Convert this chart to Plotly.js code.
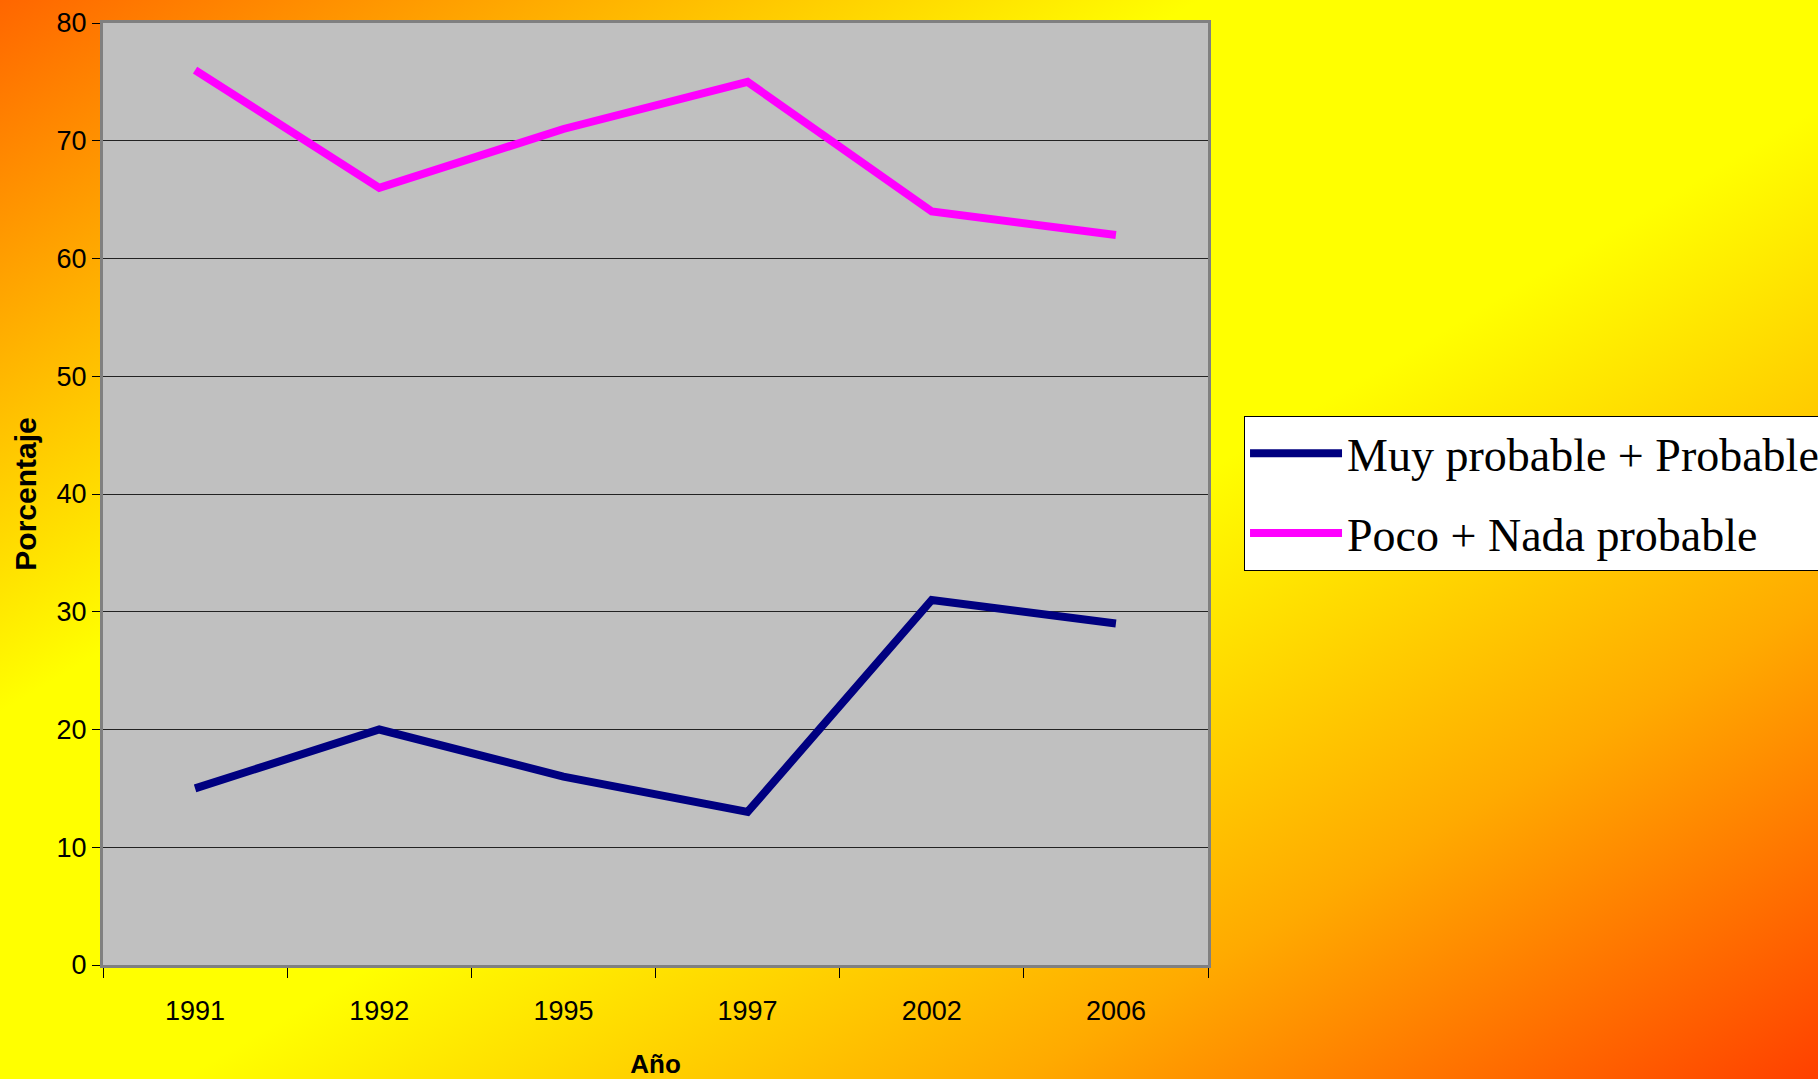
<!DOCTYPE html>
<html>
<head>
<meta charset="utf-8">
<script src="https://cdn.plot.ly/plotly-3.0.1.min.js"></script>
<style>
  html, body { margin: 0; padding: 0; width: 1818px; height: 1079px; overflow: hidden; }
  body { background: linear-gradient(to bottom right, #FF6600 0%, #FFFF00 33%, #FFFF00 55%, #FFAA00 78%, #FF4000 100%); }
  #chart { width: 1818px; height: 1079px; }
</style>
</head>
<body>
<div id="chart"></div>
<script>
const years = ["1991", "1992", "1995", "1997", "2002", "2006"];
const muyProbable = [15, 20, 16, 13, 31, 29];
const pocoNada = [76, 66, 71, 75, 64, 62];
const seriesNames = ["Muy probable + Probable", "Poco + Nada probable"];
const yTicks = [0, 10, 20, 30, 40, 50, 60, 70, 80];

const tickFont = { family: "Liberation Sans, Arial, sans-serif", size: 27, color: "#000000" };
const xTitleFont = { family: "Liberation Sans, Arial, sans-serif", size: 26, color: "#000000", weight: "bold" };
const yTitleFont = { family: "Liberation Sans, Arial, sans-serif", size: 30, color: "#000000", weight: "bold" };

const traces = [
  { x: years, y: muyProbable, name: seriesNames[0], type: "scatter", mode: "lines",
    line: { color: "#000080", width: 8 }, legendgroup: "a", hoverinfo: "skip" },
  { x: years, y: pocoNada, name: seriesNames[1], type: "scatter", mode: "lines",
    line: { color: "#FF00FF", width: 8 }, legendgroup: "b", hoverinfo: "skip" }
];

const layout = {
  width: 1818, height: 1079,
  paper_bgcolor: "rgba(0,0,0,0)",
  plot_bgcolor: "#C0C0C0",
  margin: { l: 103, r: 610, t: 23, b: 114, autoexpand: false },
  showlegend: true,
  legend: {
    x: 1.0326, xanchor: "left", y: 0.583, yanchor: "top",
    bgcolor: "#FFFFFF", bordercolor: "#000000", borderwidth: 1,
    font: { family: "Liberation Serif, Times New Roman, serif", size: 46, color: "#000000" },
    itemwidth: 92, tracegroupgap: 17
  },
  xaxis: {
    type: "category", range: [-0.5, 5.5], tickson: "boundaries",
    showgrid: false, zeroline: false,
    showline: true, linecolor: "#808080", linewidth: 3, mirror: true,
    ticks: "outside", ticklen: 10, tickcolor: "#000000", tickwidth: 1,
    ticklabelstandoff: 20,
    tickfont: tickFont,
    title: { text: "Año", font: xTitleFont, standoff: 31 }
  },
  yaxis: {
    range: [0, 80], tickvals: yTicks, ticktext: yTicks.map(String),
    showgrid: true, gridcolor: "#222222", gridwidth: 1, zeroline: false,
    showline: true, linecolor: "#808080", linewidth: 3, mirror: true,
    ticks: "outside", ticklen: 8, tickcolor: "#000000", tickwidth: 1,
    tickfont: tickFont,
    title: { text: "Porcentaje", font: yTitleFont, standoff: 12 }
  }
};

Plotly.newPlot("chart", traces, layout, { staticPlot: true, displayModeBar: false });
</script>
</body>
</html>
